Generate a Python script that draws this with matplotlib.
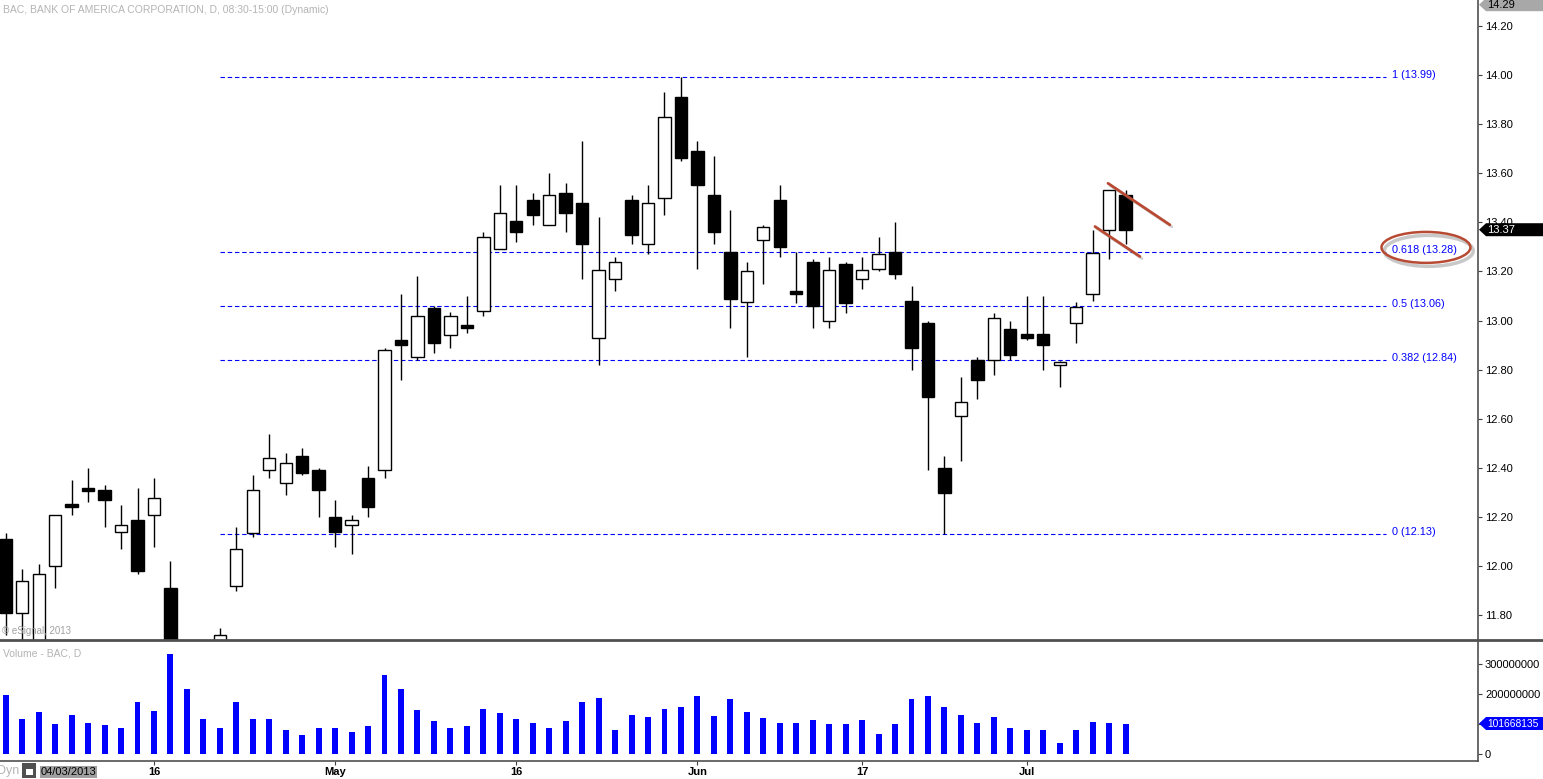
import numpy as np
import pandas as pd
import matplotlib.pyplot as plt
import matplotlib.patches as mpatches
import matplotlib.patheffects as pe
from matplotlib.lines import Line2D
from matplotlib.transforms import IdentityTransform

plt.rcParams['font.family'] = ['Liberation Sans', 'DejaVu Sans']

# BAC daily bars (bars 11-12 sit below the visible range)
opens = [12.11, 11.81, 11.66, 12.00, 12.252, 12.315, 12.31, 12.14, 12.19, 12.21,
         11.91, 11.45, 11.30, 11.62, 11.92, 12.135, 12.39, 12.34, 12.45, 12.39,
         12.20, 12.17, 12.36, 12.39, 12.92, 12.85, 13.05, 12.94, 12.98, 13.04,
         13.29, 13.405, 13.49, 13.39, 13.52, 13.48, 12.93, 13.17, 13.49, 13.31,
         13.50, 13.91, 13.69, 13.51, 13.28, 13.075, 13.33, 13.49, 13.12, 13.24,
         13.00, 13.23, 13.17, 13.21, 13.28, 13.08, 12.99, 12.40, 12.61, 12.84,
         12.84, 12.965, 12.945, 12.945, 12.82, 12.99, 13.11, 13.37, 13.51]
highs = [12.135, 11.99, 12.01, 12.21, 12.35, 12.40, 12.33, 12.25, 12.32, 12.36,
         12.02, 11.55, 11.55, 11.75, 12.16, 12.37, 12.54, 12.46, 12.48, 12.40,
         12.27, 12.21, 12.41, 12.89, 13.11, 13.18, 13.06, 13.035, 13.10, 13.36,
         13.55, 13.55, 13.52, 13.60, 13.56, 13.73, 13.42, 13.26, 13.51, 13.55,
         13.93, 13.99, 13.73, 13.67, 13.45, 13.24, 13.39, 13.55, 13.28, 13.25,
         13.26, 13.24, 13.26, 13.34, 13.40, 13.14, 13.00, 12.45, 12.77, 12.85,
         13.03, 13.00, 13.10, 13.10, 12.835, 13.075, 13.37, 13.53, 13.53]
lows = [11.72, 11.66, 11.62, 11.91, 12.21, 12.26, 12.16, 12.07, 11.97, 12.08,
        11.50, 11.25, 11.23, 11.58, 11.90, 12.12, 12.36, 12.29, 12.37, 12.20,
        12.08, 12.05, 12.20, 12.36, 12.76, 12.84, 12.87, 12.89, 12.95, 13.02,
        13.29, 13.32, 13.39, 13.39, 13.36, 13.17, 12.82, 13.12, 13.31, 13.27,
        13.43, 13.65, 13.21, 13.31, 12.97, 12.85, 13.15, 13.26, 13.07, 12.97,
        12.97, 13.03, 13.13, 13.20, 13.17, 12.80, 12.39, 12.13, 12.43, 12.68,
        12.78, 12.84, 12.92, 12.80, 12.73, 12.91, 13.08, 13.25, 13.31]
closes = [11.81, 11.94, 11.97, 12.21, 12.246, 12.309, 12.27, 12.17, 11.98, 12.28,
          11.60, 11.30, 11.45, 11.72, 12.07, 12.31, 12.44, 12.42, 12.38, 12.31,
          12.14, 12.19, 12.24, 12.88, 12.90, 13.02, 12.91, 13.02, 12.97, 13.34,
          13.44, 13.36, 13.43, 13.51, 13.44, 13.31, 13.205, 13.24, 13.35, 13.48,
          13.83, 13.66, 13.55, 13.36, 13.09, 13.20, 13.38, 13.30, 13.11, 13.06,
          13.205, 13.07, 13.205, 13.27, 13.19, 12.89, 12.69, 12.30, 12.67, 12.76,
          13.01, 12.86, 12.93, 12.90, 12.83, 13.055, 13.275, 13.53, 13.37]
# volume in millions of shares, last bar 101668135
volumes = [196.7, 116.7, 140, 100, 130, 103, 96.7, 86.7, 173, 143,
           333, 216.7, 116.7, 86.7, 173, 116.7, 116.7, 80, 63, 86.7,
           86.7, 73, 93, 263, 216.7, 146.7, 110, 86.7, 93, 150,
           136.7, 116.7, 103, 86.7, 110, 173, 186.7, 80, 130, 123,
           150, 156.7, 193, 126.7, 183, 140, 120, 103, 103, 113,
           100, 100, 113, 66.7, 100, 183, 193, 156.7, 130, 103,
           123, 86.7, 80, 80, 36.7, 80, 106.7, 103, 101.668135]

fib_low = 12.13
fib_high = 13.99
fib_ratios = [1, 0.618, 0.5, 0.382, 0]
range_top = 14.29

holidays = pd.to_datetime(['2013-05-27', '2013-07-04'])
dates = pd.bdate_range('2013-04-03', periods=80)
dates = dates[~dates.isin(holidays)][:len(closes)]

W, H = 1543, 779
fig = plt.figure(figsize=(W / 100, H / 100), dpi=100)
ax = fig.add_axes([0, 139 / H, 1478 / W, 640 / H])
axv = fig.add_axes([0, 18 / H, 1478 / W, 120 / H])

n = len(closes)
x = np.arange(n)
o = np.array(opens)
h = np.array(highs)
l = np.array(lows)
c = np.array(closes)
up = c >= o
body_bot = np.minimum(o, c)
body_h = np.abs(c - o)
small = body_h < 0.012
body_bot[small] -= (0.012 - body_h[small]) / 2
body_h = np.maximum(body_h, 0.012)

ax.vlines(x, l, h, color='black', lw=1.0, zorder=2)
ax.bar(x, body_h, bottom=body_bot, width=0.75,
       color=np.where(up, 'white', 'black'), edgecolor='black', lw=1.0, zorder=3)

# fibonacci retracement
for r in fib_ratios:
    p = fib_low + r * (fib_high - fib_low)
    ax.hlines(p, 13, 83.8, colors='#0000FF', linestyles=(0, (4, 2.5)), lw=0.8, zorder=1)
    ax.text(84.2, p + 0.008, f'{r:g} ({p:.2f})', color='#0000FF', fontsize=7.8,
            va='center', ha='left')

# hand-drawn annotations
red = '#B84A33'
shadow = [pe.SimpleLineShadow(offset=(1.5, -1.5), shadow_color='gray', alpha=0.35), pe.Normal()]
ax.plot([66.93, 70.69], [13.559, 13.39], color=red, lw=2, solid_capstyle='round',
        path_effects=shadow, zorder=6)
ax.plot([66.14, 68.87], [13.383, 13.261], color=red, lw=2, solid_capstyle='round',
        path_effects=shadow, zorder=6)
ell = mpatches.Ellipse((86.24, 13.298), 5.4, 0.126, fill=False, edgecolor=red, lw=1.8,
                       path_effects=[pe.Stroke(offset=(2, -2.5), foreground='#C8C8C8', linewidth=2.5),
                                     pe.Normal()],
                       zorder=6)
ax.add_patch(ell)

ax.set_xlim(-0.35, 89.4)
ax.set_ylim(11.70, 14.305)
ax.yaxis.tick_right()
yt = np.arange(11.8, 14.21, 0.2)
ax.set_yticks(yt)
ax.set_yticklabels([f'{v:.2f}' for v in yt])
ax.set_xticks([])
ax.tick_params(axis='y', direction='out', length=3, width=0.8, colors='#404040',
               labelcolor='black', labelsize=8, pad=2)
for s in ['left', 'top', 'bottom']:
    ax.spines[s].set_visible(False)
ax.spines['right'].set_color('#505050')
ax.spines['right'].set_linewidth(1.2)

# volume panel
axv.bar(x, volumes, width=0.36, color='#0000FF', zorder=2)
axv.set_xlim(-0.35, 89.4)
axv.set_ylim(-23.3, 376.7)
axv.yaxis.tick_right()
axv.set_yticks([0, 100, 200, 300])
axv.set_yticklabels(['0', '', '200000000', '300000000'])
tick_pos, tick_lab = [], []
for i in range(1, n):
    d, prev = dates[i], dates[i - 1]
    if d.month != prev.month:
        tick_pos.append(i)
        tick_lab.append(d.strftime('%b'))
    elif d.day >= 16 and prev.day < 16:
        tick_pos.append(i)
        tick_lab.append(str(d.day))
axv.set_xticks(tick_pos)
axv.set_xticklabels(tick_lab, fontweight='bold', fontsize=8)
axv.tick_params(axis='x', direction='out', length=3, width=0.8, colors='#404040',
                labelcolor='black', pad=1.5)
axv.tick_params(axis='y', direction='out', length=3, width=0.8, colors='#404040',
                labelcolor='black', labelsize=8, pad=2)
for s in ['left', 'top']:
    axv.spines[s].set_visible(False)
for s in ['right', 'bottom']:
    axv.spines[s].set_color('#505050')
    axv.spines[s].set_linewidth(1.2)

ident = IdentityTransform()
fig.add_artist(Line2D([0, W], [139, 139], transform=ident, color='#505050', lw=2))


def tag(yd, label, face, fg, size=8):
    pts = [(1479, yd), (1486, yd + 6.5), (W, yd + 6.5), (W, yd - 6.5), (1486, yd - 6.5)]
    fig.add_artist(mpatches.Polygon(pts, closed=True, transform=ident, facecolor=face,
                                    edgecolor='none', zorder=10))
    fig.text(1487, yd, label, transform=ident, color=fg, fontsize=size,
             va='center', ha='left', zorder=11)


tag(ax.transData.transform((0, range_top))[1] - 1, f'{range_top:.2f}', '#A8A8A8', 'black')
tag(ax.transData.transform((0, closes[-1]))[1], f'{closes[-1]:.2f}', 'black', 'white')
tag(axv.transData.transform((0, volumes[-1]))[1], f'{volumes[-1] * 1e6:.0f}', '#0000FF',
    'white', size=7.4)

grey = '#B4B4B4'
fig.text(3, H - 10, 'BAC, BANK OF AMERICA CORPORATION, D, 08:30-15:00 (Dynamic)',
         transform=ident, color=grey, fontsize=7.5, va='center')
fig.text(2, H - 631, '\u00a9 eSignal, 2013', transform=ident, color='#A0A0A0', fontsize=7, va='center')
fig.text(3, H - 654, 'Volume - BAC, D', transform=ident, color=grey, fontsize=7.5, va='center')

# bottom status strip
fig.text(-3, H - 771, 'Dyn', transform=ident, color=grey, fontsize=9, va='center')
fig.add_artist(mpatches.Rectangle((22, 1), 14, 15, transform=ident, facecolor='#505050',
                                  edgecolor='none'))
fig.add_artist(mpatches.Rectangle((26, 4), 7, 6, transform=ident, facecolor='white',
                                  edgecolor='none'))
fig.add_artist(mpatches.Rectangle((40, 1), 57, 12, transform=ident, facecolor='#A0A0A0',
                                  edgecolor='none'))
fig.text(68.5, 7, dates[0].strftime('%m/%d/%Y'), transform=ident, color='black',
         fontsize=8, va='center', ha='center')

plt.savefig('out.png', dpi=100)
